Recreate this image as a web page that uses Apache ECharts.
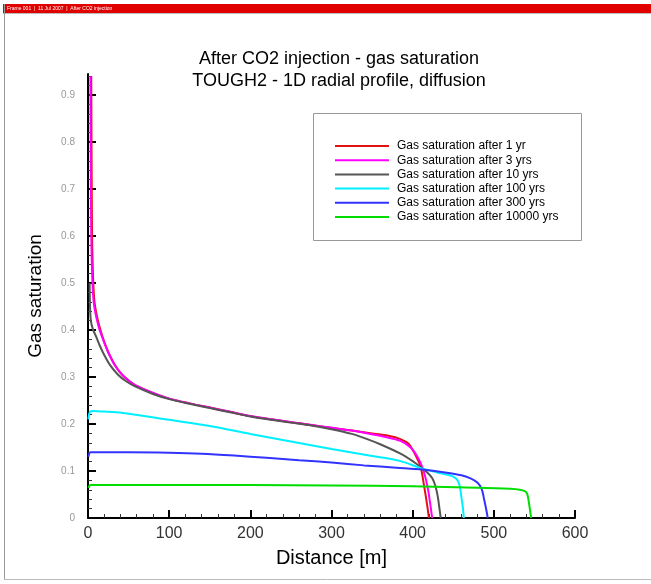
<!DOCTYPE html>
<html>
<head>
<meta charset="utf-8">
<title>Gas saturation profile</title>
<script src="https://cdn.jsdelivr.net/npm/echarts@6/dist/echarts.min.js"></script>
<style>
  html, body { margin: 0; padding: 0; background: #fff; }
  #chart { width: 651px; height: 584px; }
</style>
</head>
<body>
<div id="chart"></div>
<script>
// Radial distance [m] and gas saturation for each output time
const dist1yr = [4, 4.3, 4.6, 5, 5.6, 6.5, 8, 10, 12.5, 15, 18, 21, 24, 28, 33, 39, 45, 52, 58, 80, 100, 125, 150, 175, 200, 225, 250, 275, 300, 325, 350, 370, 385, 395, 401, 406, 410, 414, 418, 420];
const sat1yr  = [0.94, 0.8, 0.7, 0.6, 0.55, 0.5, 0.46, 0.438, 0.418, 0.402, 0.385, 0.37, 0.357, 0.342, 0.326, 0.311, 0.3, 0.29, 0.283, 0.266, 0.254, 0.244, 0.235, 0.226, 0.217, 0.21, 0.204, 0.198, 0.192, 0.186, 0.18, 0.175, 0.168, 0.158, 0.142, 0.125, 0.108, 0.069, 0.026, 0];

const dist3yr = [3, 3.3, 3.6, 4, 4.6, 5.5, 7, 9, 11.5, 14, 17.5, 21, 24, 28, 33, 39, 45, 52, 58, 80, 100, 125, 150, 175, 200, 225, 250, 275, 300, 325, 345, 365, 385, 397.5, 405, 412, 418, 422, 424];
const sat3yr  = [0.94, 0.8, 0.7, 0.6, 0.55, 0.5, 0.46, 0.438, 0.418, 0.402, 0.385, 0.369, 0.356, 0.341, 0.325, 0.311, 0.3, 0.29, 0.283, 0.266, 0.254, 0.244, 0.235, 0.226, 0.217, 0.21, 0.204, 0.198, 0.192, 0.186, 0.18, 0.173, 0.164, 0.15, 0.133, 0.108, 0.069, 0.026, 0];

const dist10yr = [2, 2.5, 3.5, 6, 10, 15, 20, 27, 37, 47, 58, 80, 100, 125, 150, 175, 200, 225, 250, 275, 300, 325, 344, 360, 385, 400, 410, 418, 424, 428, 431, 433, 434.6];
const sat10yr  = [0.5, 0.45, 0.42, 0.402, 0.386, 0.365, 0.347, 0.326, 0.305, 0.291, 0.28, 0.264, 0.253, 0.243, 0.234, 0.225, 0.216, 0.209, 0.203, 0.197, 0.189, 0.179, 0.168, 0.157, 0.137, 0.121, 0.108, 0.097, 0.085, 0.068, 0.045, 0.02, 0];

const dist100yr = [0.5, 1.5, 3, 6, 25, 46, 100, 150, 200, 250, 300, 350, 385, 412, 430, 443, 450, 455, 458, 460, 462, 463];
const sat100yr  = [0.21, 0.222, 0.227, 0.228, 0.226, 0.223, 0.209, 0.196, 0.179, 0.163, 0.147, 0.132, 0.121, 0.105, 0.097, 0.092, 0.088, 0.081, 0.068, 0.045, 0.02, 0];

const dist300yr = [0.5, 1.5, 3, 50, 100, 140, 180, 220, 260, 300, 340, 380, 412, 440, 460, 472, 480, 485, 488, 491, 492.5];
const sat300yr  = [0.13, 0.137, 0.14, 0.14, 0.139, 0.137, 0.133, 0.128, 0.123, 0.118, 0.112, 0.107, 0.103, 0.097, 0.091, 0.084, 0.075, 0.062, 0.04, 0.015, 0];

const dist10000yr = [0.5, 2, 4, 200, 300, 400, 480, 520, 532, 538, 541, 543, 545, 546];
const sat10000yr  = [0.064, 0.069, 0.07, 0.07, 0.069, 0.0675, 0.0645, 0.062, 0.06, 0.057, 0.052, 0.035, 0.012, 0];

const seriesNames = [
  'Gas saturation after 1 yr',
  'Gas saturation after 3 yrs',
  'Gas saturation after 10 yrs',
  'Gas saturation after 100 yrs',
  'Gas saturation after 300 yrs',
  'Gas saturation after 10000 yrs'
];
const seriesColors = ['#e31010', '#ff00ff', '#555555', '#00f0ff', '#3333ff', '#00dd00'];
const seriesDist = [dist1yr, dist3yr, dist10yr, dist100yr, dist300yr, dist10000yr];
const seriesSat  = [sat1yr, sat3yr, sat10yr, sat100yr, sat300yr, sat10000yr];

const yTicks = [0, 0.1, 0.2, 0.3, 0.4, 0.5, 0.6, 0.7, 0.8, 0.9];

const FONT = '"Liberation Sans", Arial, Helvetica, sans-serif';

const chart = echarts.init(document.getElementById('chart'), null, { renderer: 'canvas' });

// later output times are drawn over earlier ones
const series = seriesNames.map((name, i) => ({
  name: name,
  type: 'line',
  showSymbol: false,
  symbol: 'none',
  smooth: 0.3,
  lineStyle: { color: seriesColors[i], width: 2 },
  itemStyle: { color: seriesColors[i] },
  data: seriesDist[i].map((d, k) => [d, seriesSat[i][k]]),
  z: 3 + i
}));

chart.setOption({
  animation: false,
  backgroundColor: '#ffffff',
  title: {
    text: 'After CO2 injection - gas saturation\nTOUGH2 - 1D radial profile, diffusion',
    left: 339,
    top: 48,
    textAlign: 'center',
    padding: 0,
    textStyle: { fontFamily: FONT, fontSize: 18, fontWeight: 'normal', color: '#000', lineHeight: 22 }
  },
  grid: { left: 88, right: 76, top: 74, bottom: 66 },
  legend: {
    orient: 'vertical',
    left: 335,
    top: 140,
    padding: 0,
    itemWidth: 54,
    itemHeight: 2,
    itemGap: 2.2,
    icon: 'rect',
    data: seriesNames,
    textStyle: { fontFamily: FONT, fontSize: 12, color: '#000', lineHeight: 12, padding: [0, 0, 0, 3] }
  },
  xAxis: {
    type: 'value',
    min: 0,
    max: 600,
    interval: 100,
    name: 'Distance [m]',
    nameLocation: 'middle',
    nameGap: 30,
    nameTextStyle: { fontFamily: FONT, fontSize: 20, color: '#000' },
    axisLine: { show: true, onZero: false, lineStyle: { color: '#000', width: 2 } },
    axisTick: { show: true, inside: true, length: 8, lineStyle: { color: '#000', width: 2 } },
    minorTick: { show: true, splitNumber: 5, length: 4, lineStyle: { color: '#333', width: 1 } },
    splitLine: { show: false },
    axisLabel: { fontFamily: FONT, fontSize: 16, color: '#333', margin: 8 }
  },
  yAxis: {
    type: 'value',
    min: 0,
    max: 0.945,
    interval: 0.1,
    name: 'Gas saturation',
    nameLocation: 'middle',
    nameGap: 43,
    nameTextStyle: { fontFamily: FONT, fontSize: 19, color: '#000' },
    axisLine: { show: true, onZero: false, lineStyle: { color: '#000', width: 2 } },
    axisTick: { show: true, inside: true, length: 8, customValues: yTicks, lineStyle: { color: '#000', width: 2 } },
    minorTick: { show: true, splitNumber: 5, length: 4, lineStyle: { color: '#333', width: 1 } },
    splitLine: { show: false },
    axisLabel: { fontFamily: FONT, fontSize: 10, color: '#999', margin: 13, customValues: yTicks }
  },
  graphic: [
    { type: 'rect', shape: { x: 3, y: 4, width: 648, height: 9 }, style: { fill: '#e00000' }, z: 1 },
    { type: 'text', style: { x: 7, y: 8.5, text: 'Frame 001  |  11 Jul 2007  |  After CO2 injection', fill: '#ffffff', font: '5px ' + FONT, textVerticalAlign: 'middle' }, z: 2 },
    { type: 'line', shape: { x1: 3, y1: 13.5, x2: 651, y2: 13.5 }, style: { stroke: '#bbbbbb', lineWidth: 1 }, z: 1 },
    { type: 'line', shape: { x1: 4.5, y1: 4, x2: 4.5, y2: 580 }, style: { stroke: '#999999', lineWidth: 1 }, z: 1 },
    { type: 'line', shape: { x1: 4, y1: 579.5, x2: 651, y2: 579.5 }, style: { stroke: '#bbbbbb', lineWidth: 1 }, z: 1 },
    { type: 'rect', shape: { x: 313.5, y: 113.5, width: 268, height: 127 }, style: { fill: '#ffffff', stroke: '#999999', lineWidth: 1 }, z: 1 }
  ],
  series: series
});
</script>
</body>
</html>
